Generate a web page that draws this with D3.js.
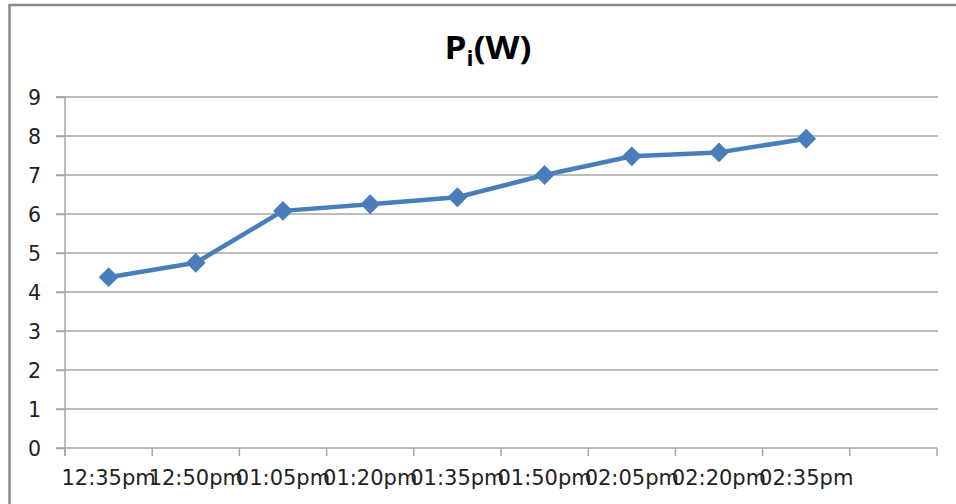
<!DOCTYPE html>
<html><head><meta charset="utf-8">
<script src="https://cdn.jsdelivr.net/npm/d3@7"></script>
<style>html,body{margin:0;padding:0;background:#fff;overflow:hidden}</style>
</head><body>
<svg id="c" width="956" height="504"></svg>
<script>
const categories = ["12:35pm","12:50pm","01:05pm","01:20pm","01:35pm","01:50pm","02:05pm","02:20pm","02:35pm",""];
const values = [4.38, 4.75, 6.08, 6.25, 6.43, 7.0, 7.48, 7.58, 7.93];
const yTicks = [0,1,2,3,4,5,6,7,8,9];

const svg = d3.select("#c");
const L = 65, R = 937, T = 97, B = 448;

// outer chart border
svg.append("rect").attr("x",9.5).attr("y",5).attr("width",990).attr("height",560)
  .attr("fill","none").attr("stroke","#8a8a8a").attr("stroke-width",2.5);

const x = d3.scaleBand().domain(categories.map((c,i)=>i)).range([L,R]).padding(0);
const y = d3.scaleLinear().domain([0,9]).range([B,T]);

// gridlines
svg.append("g").selectAll("line").data(yTicks.filter(t=>t>0)).join("line")
  .attr("x1",56).attr("x2",R+1).attr("y1",d=>y(d)).attr("y2",d=>y(d))
  .attr("stroke","#a6a6a6").attr("stroke-width",1.5);

// y axis
const ya = svg.append("g").attr("transform",`translate(${L},0)`)
  .call(d3.axisLeft(y).tickValues(yTicks).tickSize(9).tickPadding(15).tickFormat(d3.format("d")));
ya.select(".domain").attr("stroke","#a6a6a6").attr("stroke-width",1.5).attr("d",`M-9,${T}H0V${B+7}`);
ya.selectAll(".tick line").attr("stroke","#a6a6a6").attr("stroke-width",1.5);
ya.selectAll("text").attr("font-family","DejaVu Sans").attr("font-size",20.5).attr("fill","#222").attr("dy","0.36em");

// x axis
const xa = svg.append("g").attr("transform",`translate(0,${B})`)
  .call(d3.axisBottom(x).tickSize(0).tickPadding(22).tickFormat(i=>categories[i]));
xa.select(".domain").attr("stroke","#a6a6a6").attr("stroke-width",1.5).attr("d",`M${L-9},0H${R}`);
xa.selectAll("text").attr("font-family","DejaVu Sans").attr("font-size",21).attr("fill","#222");
const tickPos = categories.map((c,i)=>x(i)).concat([R]);
svg.append("g").selectAll("line").data(tickPos).join("line")
  .attr("x1",d=>d).attr("x2",d=>d).attr("y1",B).attr("y2",B+8)
  .attr("stroke","#a6a6a6").attr("stroke-width",1.5);

// line
const cx = i => x(i) + x.bandwidth()/2;
svg.append("path").datum(values)
  .attr("d", d3.line().x((d,i)=>cx(i)).y(d=>y(d)))
  .attr("fill","none").attr("stroke","#4a7ebb").attr("stroke-width",4.5).attr("stroke-linejoin","round");

svg.append("g").selectAll("path").data(values).join("path")
  .attr("transform",(d,i)=>`translate(${cx(i)},${y(d)})`)
  .attr("d", d3.symbol().type(d3.symbolDiamond2).size(250))
  .attr("fill","#4a7ebb");

// title
const t = svg.append("text").attr("x",488).attr("y",59).attr("text-anchor","middle")
  .attr("font-family","Open Sans").attr("font-weight","bold").attr("font-size",32).attr("fill","#000")
  .attr("transform","translate(488,0) scale(1.1,1) translate(-488,0)");
t.append("tspan").text("P");
t.append("tspan").attr("font-size",21).attr("dy",7).text("i");
t.append("tspan").attr("dy",-7).text("(W)");
</script>
</body></html>
